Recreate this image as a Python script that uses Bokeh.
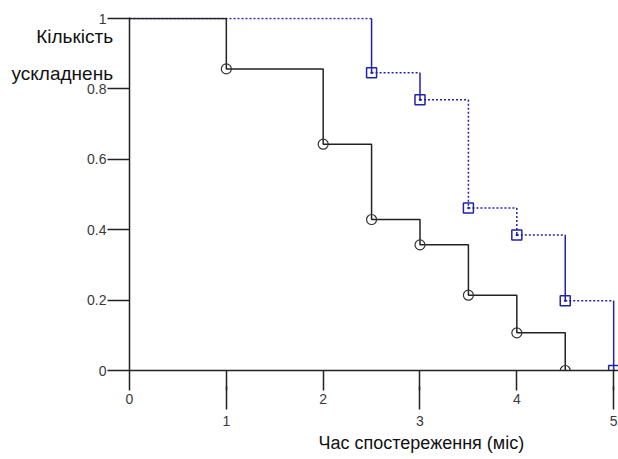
from bokeh.plotting import figure
from bokeh.models import LinearAxis, FixedTicker, Range1d, Title
from bokeh.embed import file_html
from bokeh.resources import INLINE

# ---- data ----
black_t = [0, 1, 2, 2.5, 3, 3.5, 4, 4.5]
black_s = [1.0, 0.857, 0.643, 0.429, 0.357, 0.214, 0.107, 0.0]
blue_t = [0, 2.5, 3, 3.5, 4, 4.5, 5]
blue_s = [1.0, 0.846, 0.769, 0.462, 0.385, 0.198, 0.0]
y_ticks = [0, 0.2, 0.4, 0.6, 0.8, 1]
y_tick_labels = ["0", "0.2", "0.4", "0.6", "0.8", "1"]
x_ticks_all = [0, 1, 2, 3, 4, 5]
x_tick_labels_even = {0: "0", 1: "", 2: "2", 3: "", 4: "4", 5: ""}
x_ticks_odd = [1, 3, 5]
y_title = ["Кількість", "ускладнень"]
x_title = "Час спостереження (міс)"

BLUE = "#2222aa"
BLACK = "#222222"
FONT = "Liberation Sans"

p = figure(width=618, height=459, output_backend="svg", toolbar_location=None,
           x_range=Range1d(0, 5.05), y_range=Range1d(0, 1.003),
           min_border_left=129, min_border_top=17, min_border_bottom=89,
           min_border_right=0, x_axis_location=None, y_axis_location="left")
p.grid.visible = False
p.outline_line_color = None
p.background_fill_color = "white"
p.border_fill_color = "white"


def style(ax):
    ax.minor_tick_out = 0
    ax.minor_tick_in = 0
    ax.axis_line_width = 1.5
    ax.major_tick_line_width = 1.5
    ax.axis_line_color = BLACK
    ax.major_tick_line_color = BLACK
    ax.major_label_text_font = FONT
    ax.major_label_text_font_size = "14px"
    ax.major_label_text_color = "#3a3a3a"


# y axis
ya = p.yaxis[0]
style(ya)
ya.ticker = FixedTicker(ticks=y_ticks)
ya.major_label_overrides = {t: l for t, l in zip(y_ticks, y_tick_labels)}
ya.major_tick_out = 22
ya.major_tick_in = 0
ya.major_label_standoff = 1
# the label block is centred on the top of the axis; two blank lines push the
# two title lines below the top edge
ya.axis_label = "\n".join(["\u00a0", "\u00a0"] + y_title)
ya.axis_label_orientation = "horizontal"
ya.axis_label_align = "end"
ya.axis_label_standoff = -29
ya.axis_label_text_font = FONT
ya.axis_label_text_font_size = "19px"
ya.axis_label_text_font_style = "normal"
ya.axis_label_text_color = "#111111"
ya.axis_label_text_line_height = 1.79

# x axis (even labels, short ticks)
xa = LinearAxis(ticker=FixedTicker(ticks=x_ticks_all))
style(xa)
xa.major_label_overrides = x_tick_labels_even
xa.major_tick_out = 20
xa.major_tick_in = 0
xa.major_label_standoff = 3
p.add_layout(xa, "below")

# second x axis (odd labels, long ticks)
xb = LinearAxis(ticker=FixedTicker(ticks=x_ticks_odd))
style(xb)
xb.axis_line_color = None
xb.major_tick_in = 20
xb.major_tick_out = 3
xb.major_label_standoff = 6
p.add_layout(xb, "below")

# x title
p.add_layout(Title(text=x_title, align="left", offset=189, standoff=5,
                   text_font=FONT, text_font_size="18px", text_font_style="normal",
                   text_color="#111111"), "below")

# blue curve: horizontals dotted, verticals mixed
hx0, hx1, hy = [], [], []
vx, vy0, vy1 = [], [], []
for i in range(len(blue_t) - 1):
    hx0.append(blue_t[i]); hx1.append(blue_t[i + 1]); hy.append(blue_s[i])
    vx.append(blue_t[i + 1]); vy0.append(blue_s[i]); vy1.append(blue_s[i + 1])
p.segment(hx0, hy, hx1, hy, line_color=BLUE, line_width=1.5, line_dash="2 2")
solid_idx = [0, 1, 4, 5]
dot_idx = [2, 3]
p.segment([vx[i] for i in solid_idx], [vy0[i] for i in solid_idx],
          [vx[i] for i in solid_idx], [vy1[i] for i in solid_idx],
          line_color=BLUE, line_width=1.5)
p.segment([vx[i] for i in dot_idx], [vy0[i] for i in dot_idx],
          [vx[i] for i in dot_idx], [vy1[i] for i in dot_idx],
          line_color=BLUE, line_width=1.5, line_dash="2 2")

# black curve
p.step(black_t, black_s, mode="after", line_color=BLACK, line_width=1.5)

p.scatter(black_t[1:], black_s[1:], marker="circle", size=10,
          fill_color=None, line_color="#333333", line_width=1.2)
p.scatter(blue_t[1:], blue_s[1:], marker="square_dot", size=10,
          fill_color=None, line_color=BLUE, line_width=1.5)

open("out.html", "w").write(file_html(p, INLINE))
